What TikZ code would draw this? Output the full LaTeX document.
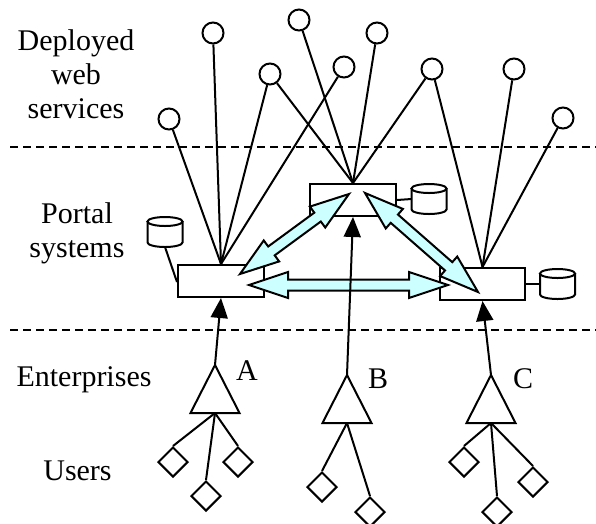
\documentclass[tikz,border=0pt]{standalone}
\usepackage{fontspec}
\setmainfont{Liberation Serif}
\usetikzlibrary{calc,arrows.meta,shapes.geometric}
\definecolor{fatcyan}{HTML}{CCFFFF}
\newcommand\fatarrow[2]{%
  \path ($(#1)!39pt!(#2)$) coordinate (h1) ($(#2)!39pt!(#1)$) coordinate (h2);
  \draw[fat] (#1) -- ($(h1)!13pt!90:(#1)$) -- ($(h1)!5.5pt!90:(#1)$)
    -- ($(h2)!5.5pt!-90:(#2)$) -- ($(h2)!13pt!-90:(#2)$) -- (#2)
    -- ($(h2)!13pt!90:(#2)$) -- ($(h2)!5.5pt!90:(#2)$)
    -- ($(h1)!5.5pt!-90:(#1)$) -- ($(h1)!13pt!-90:(#1)$) -- cycle;}
\newcommand\dbcyl[3]{% name, cx, cy
  \draw[fill=white] (#2-17.5,#3-10.5) -- (#2-17.5,#3+10.5)
     arc[start angle=180,end angle=0,x radius=17.5,y radius=4.5]
     -- (#2+17.5,#3-10.5);
  \draw[fill=white] (#2,#3-10.5) ellipse[x radius=17.5,y radius=4.5];
  \coordinate (#1-s) at (#2,#3+15);
  \coordinate (#1-w) at (#2-17.5,#3);}
\begin{document}
\begin{tikzpicture}[x=1pt,y=-1pt,line width=2pt,
  svc/.style={circle,draw,fill=white,minimum size=21pt,inner sep=0pt},
  portal/.style={rectangle,draw,fill=white,minimum height=32pt,inner sep=0pt},
  user/.style={diamond,draw,fill=white,minimum width=30pt,minimum height=30pt,inner sep=0pt},
  lbl/.style={font=\fontsize{30}{34}\selectfont,anchor=base,inner sep=0pt},
  sep/.style={dash pattern=on 8pt off 5pt},
  fat/.style={draw,fill=fatcyan,line width=2pt,line join=miter},
  up/.style={-{Triangle[length=20pt,width=17pt]}},
]
\useasboundingbox (0,0) rectangle (596,523);

% separators
\draw[sep] (10,147) -- (596,147);
\draw[sep] (10,330) -- (596,330);

% labels
\node[lbl] (t1) at (76,50.5) {Deployed};
\node[lbl] (t2) at (76,84) {web};
\node[lbl] (t3) at (76,118.5) {services};
\node[lbl] (t4) at (77,223) {Portal};
\node[lbl] (t5) at (77,257) {systems};
\node[lbl] (t6) at (84,386) {Enterprises};
\node[lbl] (t7) at (77.5,480) {Users};

% portal boxes
\node[portal,minimum width=86pt] (L) at (221,281) {};
\node[portal,minimum width=86pt] (M) at (353,200) {};
\node[portal,minimum width=85pt] (R) at (482.5,284) {};

% services
\node[svc] (c1) at (169,119) {};
\node[svc] (c2) at (213,33) {};
\node[svc] (c3) at (270,74) {};
\node[svc] (c4) at (299,20) {};
\node[svc] (c5) at (344,67) {};
\node[svc] (c6) at (377,33) {};
\node[svc] (c7) at (432,69) {};
\node[svc] (c8) at (514,69) {};
\node[svc] (c9) at (563,118) {};

\foreach \c in {c1,c2,c3,c5} \draw (\c) -- (L.north);
\foreach \c in {c3,c4,c6,c7} \draw (\c) -- (M.north);
\foreach \c in {c7,c8,c9} \draw (\c) -- (R.north);

% databases
\dbcyl{dL}{165}{232}
\dbcyl{dM}{429}{199}
\dbcyl{dR}{557.5}{284}
\draw (dL-s) -- (L.west |- 0,282);
\draw (M.east) -- (dM-w);
\draw (R.east) -- (dR-w);

% fat arrows
\coordinate (aL1) at (240,274);
\coordinate (aM1) at (349,194);
\coordinate (aM2) at (365,193);
\coordinate (aR1) at (478,292);
\coordinate (aL2) at (249,285);
\coordinate (aR2) at (448,285);
\fatarrow{aL1}{aM1}
\fatarrow{aM2}{aR1}
\fatarrow{aL2}{aR2}

% enterprises
\coordinate (tA) at (215,365); \coordinate (bA) at (215,413);
\coordinate (tB) at (347,375); \coordinate (bB) at (347,423);
\coordinate (tC) at (491,375); \coordinate (bC) at (491,423);
\foreach \t in {A,B,C} \draw[line join=miter] (t\t) -- ++(-24.5,48) -- ++(49,0) -- cycle;
\node[lbl] (lA) at (247,380) {A};
\node[lbl] (lB) at (378,388) {B};
\node[lbl] (lC) at (523,388) {C};

\draw[up] (tA) -- (L.south);
\draw[up] (tB) -- (M.south);
\draw[up] (tC) -- (R.south);

% users
\node[user] (uA1) at (173,462) {};
\node[user] (uA2) at (206,496) {};
\node[user] (uA3) at (238,462) {};
\node[user] (uB1) at (322,487) {};
\node[user] (uB2) at (370,512) {};
\node[user] (uC1) at (464,462) {};
\node[user] (uC2) at (497,512) {};
\node[user] (uC3) at (533,482) {};
\foreach \u in {uA1,uA2,uA3} \draw (bA) -- (\u.north);
\foreach \u in {uB1,uB2} \draw (bB) -- (\u.north);
\foreach \u in {uC1,uC2,uC3} \draw (bC) -- (\u.north);
\end{tikzpicture}
\end{document}
